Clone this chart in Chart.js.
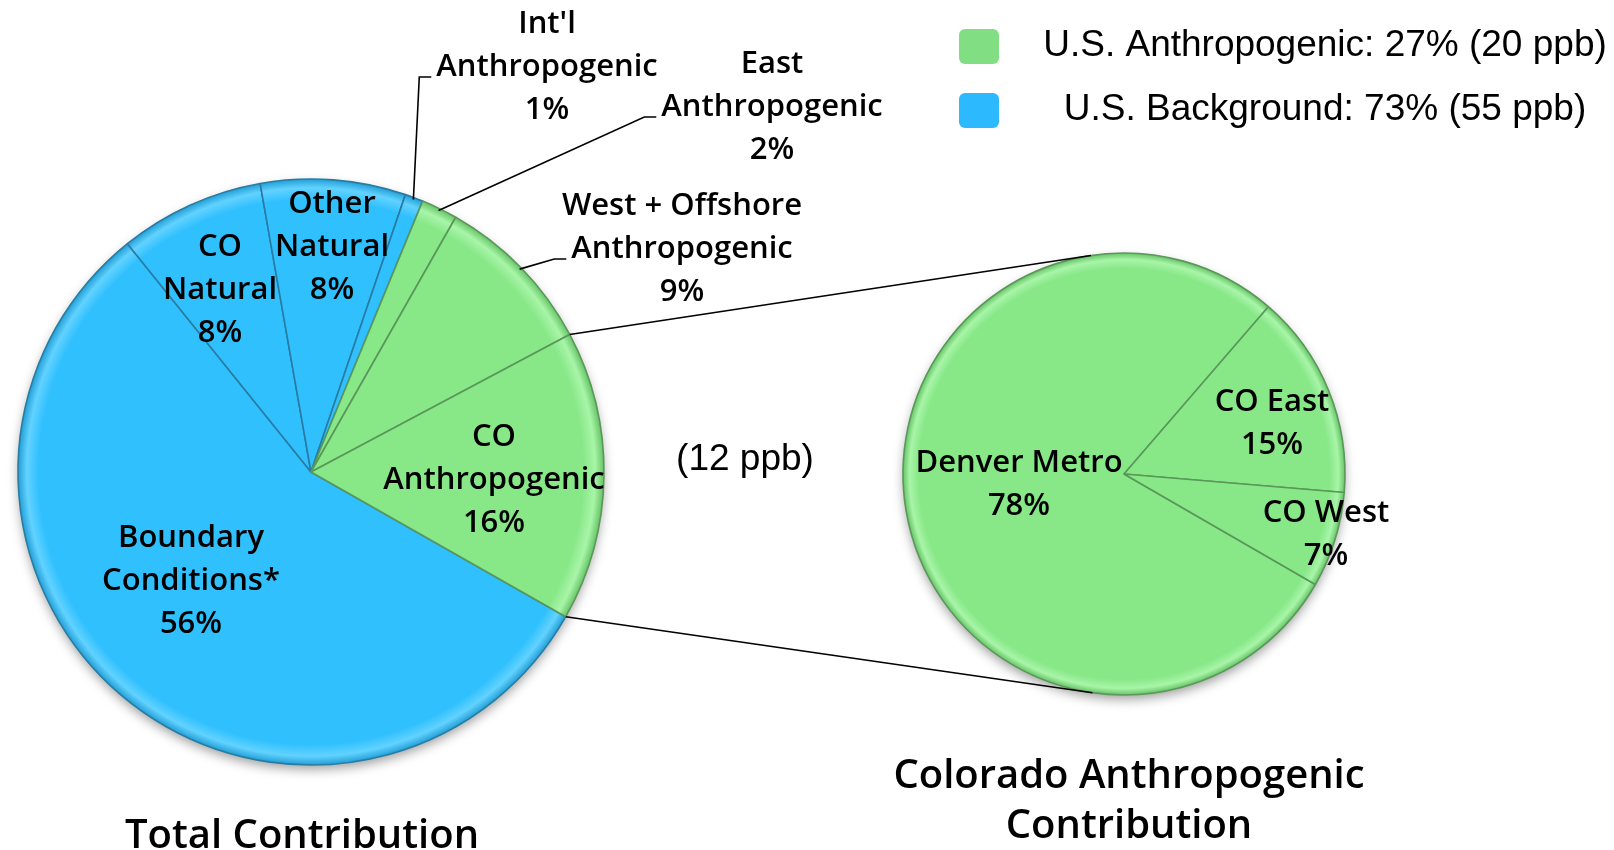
<!DOCTYPE html>
<html lang="en">
<head>
<meta charset="UTF-8">
<title>Ozone Contribution - Pie of Pie</title>
<script src="https://cdn.jsdelivr.net/npm/chart.js"></script>
<style>
    body { margin: 0; background: #fff; }
    .stage { position: relative; width: 1614px; height: 850px; }
    .stage canvas { position: absolute; left: 0; top: 0; }
</style>
</head>
<body>
<div class="stage">
    <canvas id="totalChart" width="1614" height="850"></canvas>
    <canvas id="coChart" width="1614" height="850"></canvas>
</div>
<script>
// ---- data ----
const totalLabels = ['Boundary Conditions*', 'CO Natural', 'Other Natural', "Int'l Anthropogenic",
    'East Anthropogenic', 'West + Offshore Anthropogenic', 'CO Anthropogenic'];
const totalLines = [['Boundary', 'Conditions*'], ['CO', 'Natural'], ['Other', 'Natural'], ["Int'l", 'Anthropogenic'],
    ['East', 'Anthropogenic'], ['West + Offshore', 'Anthropogenic'], ['CO', 'Anthropogenic']];
const totalValues = [56, 8, 8, 1, 2, 9, 16];
const totalGroups = ['background', 'background', 'background', 'background',
    'anthropogenic', 'anthropogenic', 'anthropogenic'];

const coLabels = ['Denver Metro', 'CO East', 'CO West'];
const coValues = [78, 15, 7];

const legendLabels = ['U.S. Anthropogenic: 27% (20 ppb)', 'U.S. Background: 73% (55 ppb)'];
const legendGroups = ['anthropogenic', 'background'];
const coPpbNote = '(12 ppb)';
const titleTotal = ['Total Contribution'];
const titleCO = ['Colorado Anthropogenic', 'Contribution'];

// ---- styling / layout ----
const colors = {
    anthropogenic: { fill: '#88E888', light: '#A8F5A8', dark: '#66C466', border: '#5A985A', legend: '#82DE82' },
    background: { fill: '#30C0FE', light: '#62D2FF', dark: '#229FD6', border: '#287CA4', legend: '#2CB9FE' }
};
const labelFont = '600 31px "Open Sans", sans-serif';
const titleFont = '600 40px "Open Sans", sans-serif';
const legendFont = '37px "Liberation Sans", Arial, sans-serif';
const lineH = 43;
const titleLineH = 50;

// label anchors (x centre, y of first line)
const totalLabelAt = [[191, 538], [220, 247], [332, 204], [547, 24], [772, 64], [682, 206], [494, 437]];
const leaderIdx = [3, 4, 5];
const coLabelAt = [[1019, 463], [1272, 402], [1326, 513]];

function bevelFill(group, radius, ctx) {
    const area = ctx.chart.chartArea;
    const c = colors[group];
    if (!area) return c.fill;
    const cx = (area.left + area.right) / 2;
    const cy = (area.top + area.bottom) / 2;
    const g = ctx.chart.ctx.createRadialGradient(cx, cy, 0, cx, cy, radius);
    g.addColorStop(0, c.fill);
    g.addColorStop(0.93, c.fill);
    g.addColorStop(0.97, c.light);
    g.addColorStop(1, c.dark);
    return g;
}

const pieShadow = {
    id: 'pieShadow',
    beforeDatasetsDraw(chart) {
        const arc = chart.getDatasetMeta(0).data[0];
        const ctx = chart.ctx;
        ctx.save();
        ctx.shadowColor = 'rgba(0,0,0,0.4)';
        ctx.shadowBlur = 12;
        ctx.shadowOffsetY = 5;
        ctx.fillStyle = '#fff';
        ctx.beginPath();
        ctx.arc(arc.x, arc.y, arc.outerRadius - 1, 0, Math.PI * 2);
        ctx.fill();
        ctx.restore();
    }
};

function drawLines(ctx, lines, x, y, h) {
    lines.forEach((t, i) => ctx.fillText(t, x, y + i * (h || lineH)));
}

const totalText = {
    id: 'totalText',
    afterDatasetsDraw(chart) {
        const ctx = chart.ctx;
        const arcs = chart.getDatasetMeta(0).data;
        ctx.save();
        ctx.font = labelFont;
        ctx.fillStyle = '#000';
        ctx.textAlign = 'center';
        ctx.textBaseline = 'middle';
        totalValues.forEach((v, i) => {
            const [x, y] = totalLabelAt[i];
            drawLines(ctx, totalLines[i].concat(v + '%'), x, y);
        });
        // leader lines for the thin slices
        ctx.strokeStyle = '#000';
        ctx.lineWidth = 1.6;
        leaderIdx.forEach(i => {
            const a = arcs[i];
            const mid = (a.startAngle + a.endAngle) / 2;
            const sx = a.x + (a.outerRadius - 2) * Math.cos(mid);
            const sy = a.y + (a.outerRadius - 2) * Math.sin(mid);
            const [x, y] = totalLabelAt[i];
            const left = x - ctx.measureText(totalLines[i][1]).width / 2;
            const ey = y + lineH + 10;
            ctx.beginPath();
            ctx.moveTo(sx, sy);
            ctx.lineTo(left - 17, ey);
            ctx.lineTo(left - 5, ey);
            ctx.stroke();
        });
        ctx.font = titleFont;
        const cx = chart.getDatasetMeta(0).data[0].x;
        drawLines(ctx, titleTotal, cx - 9, 837, titleLineH);
        ctx.restore();
    }
};

const totalChart = new Chart(document.getElementById('totalChart'), {
    type: 'pie',
    data: {
        labels: totalLabels,
        datasets: [{
            data: totalValues,
            backgroundColor: (ctx) => bevelFill(totalGroups[ctx.dataIndex], 293, ctx),
            borderColor: totalGroups.map(g => colors[g].border),
            borderWidth: 1.6
        }]
    },
    options: {
        responsive: false,
        animation: false,
        events: [],
        radius: 293,
        rotation: 119.6,
        layout: { padding: { left: 0, right: 992, top: 94, bottom: 0 } },
        plugins: { legend: { display: false }, tooltip: { enabled: false } }
    },
    plugins: [pieShadow, totalText]
});

function tangentPoint(px, py, cx, cy, r, upper) {
    const d = Math.hypot(cx - px, cy - py);
    const th = Math.atan2(cy - py, cx - px);
    const al = Math.asin(r / d);
    const phi = upper ? th - al : th + al;
    return upper
        ? [cx + r * Math.sin(phi), cy - r * Math.cos(phi)]
        : [cx - r * Math.sin(phi), cy + r * Math.cos(phi)];
}

const coText = {
    id: 'coText',
    afterDatasetsDraw(chart) {
        const ctx = chart.ctx;
        const big = totalChart.getDatasetMeta(0).data[6];
        const small = chart.getDatasetMeta(0).data[0];
        ctx.save();
        // connector lines from the split slice to the second pie
        ctx.strokeStyle = '#000';
        ctx.lineWidth = 1.6;
        [[big.startAngle, true], [big.endAngle, false]].forEach(([ang, up]) => {
            const px = big.x + big.outerRadius * Math.cos(ang);
            const py = big.y + big.outerRadius * Math.sin(ang);
            const [tx, ty] = tangentPoint(px, py, small.x, small.y, small.outerRadius, up);
            ctx.beginPath();
            ctx.moveTo(px, py);
            ctx.lineTo(tx, ty);
            ctx.stroke();
        });
        ctx.fillStyle = '#000';
        ctx.textAlign = 'center';
        ctx.textBaseline = 'middle';
        ctx.font = labelFont;
        coValues.forEach((v, i) => {
            const [x, y] = coLabelAt[i];
            drawLines(ctx, [coLabels[i], v + '%'], x, y);
        });
        ctx.font = titleFont;
        drawLines(ctx, titleCO, small.x + 5, 777, titleLineH);
        ctx.font = legendFont;
        ctx.fillText(coPpbNote, 745, 460);
        // legend
        legendLabels.forEach((t, i) => {
            const y = 46 + i * 64;
            ctx.fillStyle = colors[legendGroups[i]].legend;
            ctx.beginPath();
            ctx.roundRect(959, y - 17, 40, 35, 6);
            ctx.fill();
            ctx.fillStyle = '#000';
            ctx.fillText(t, 1325, y);
        });
        ctx.restore();
    }
};

new Chart(document.getElementById('coChart'), {
    type: 'pie',
    data: {
        labels: coLabels,
        datasets: [{
            data: coValues,
            backgroundColor: (ctx) => bevelFill('anthropogenic', 221, ctx),
            borderColor: colors.anthropogenic.border,
            borderWidth: 1.6
        }]
    },
    options: {
        responsive: false,
        animation: false,
        events: [],
        radius: 221,
        rotation: 120,
        layout: { padding: { left: 634, right: 0, top: 98, bottom: 0 } },
        plugins: { legend: { display: false }, tooltip: { enabled: false } }
    },
    plugins: [pieShadow, coText]
});
</script>
</body>
</html>
